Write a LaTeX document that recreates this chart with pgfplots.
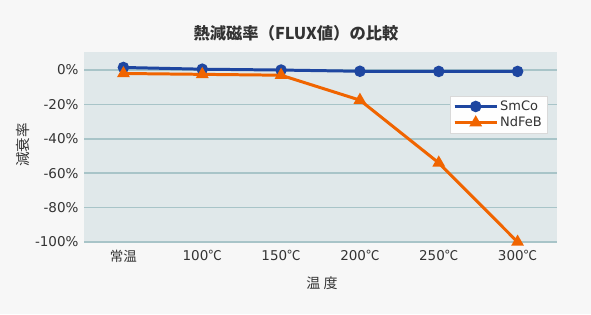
\documentclass[border=0pt]{standalone}
\usepackage{pgfplots}
\pgfplotsset{compat=1.18}
\usepackage{fontspec}
\setmainfont{DejaVu Sans}
\newfontfamily\cjk{Noto Sans CJK JP}
\definecolor{bgc}{HTML}{F7F7F7}
\definecolor{plotbg}{HTML}{E0E8EA}
\definecolor{gridc}{HTML}{A8C4C8}
\definecolor{blueS}{HTML}{1E46A0}
\definecolor{orangeN}{HTML}{F06400}
\definecolor{txt}{HTML}{333333}
\begin{document}
\begin{tikzpicture}[x=1bp,y=1bp]
\fill[bgc] (0,0) rectangle (591,314);
\useasboundingbox (0,0) rectangle (591,314);
\begin{axis}[
  at={(84bp,72bp)}, anchor=south west,
  scale only axis, width=473bp, height=190bp,
  xmin=-0.5, xmax=5.5, ymin=-100, ymax=10.5,
  axis background/.style={fill=plotbg},
  axis line style={draw=none},
  xtick={0,1,2,3,4,5},
  xticklabels={{\cjk 常温},100{\cjk ℃},150{\cjk ℃},200{\cjk ℃},250{\cjk ℃},300{\cjk ℃}},
  ytick={0,-20,-40,-60,-80,-100},
  yticklabels={0\%,-20\%,-40\%,-60\%,-80\%,-100\%},
  major tick length=0pt,
  ymajorgrids, grid style={gridc, line width=1.5pt},
  tick label style={font=\fontsize{13.5bp}{15bp}\selectfont, text=txt},
  yticklabel style={xshift=-2bp},
  xticklabel style={yshift=-5bp},
  clip=false,
  legend style={at={(0.979,0.77)}, anchor=north east, draw=black!15, fill=white!90!bgc,
    font=\fontsize{13bp}{15bp}\selectfont, text=txt, row sep=1bp, inner sep=3bp},
  legend cell align=left,
  legend image code/.code={\draw[#1, line width=3pt] (0bp,0bp) -- (42bp,0bp); \draw[#1,mark repeat=2,mark phase=2] plot coordinates {(0bp,0bp)(21bp,0bp)(42bp,0bp)};},
]
\addplot[blueS, line width=3pt, mark=*, mark size=4.2bp, mark options={solid}] coordinates {(0,1.5) (1,0.5) (2,0) (3,-0.7) (4,-0.8) (5,-0.8)};
\addlegendentry{SmCo}
\addplot[orangeN, line width=3pt, mark=triangle*, mark size=4.5bp] coordinates {(0,-2) (1,-2.5) (2,-3) (3,-17.5) (4,-54) (5,-100)};
\addlegendentry{NdFeB}
\end{axis}
\node[font=\cjk\bfseries\fontsize{16.3bp}{18bp}\selectfont, text=txt] at (296,281) {熱減磁率（FLUX値）の比較};
\node[font=\cjk\fontsize{14.5bp}{16bp}\selectfont, text=txt, rotate=90] at (23,169) {減衰率};
\node[font=\cjk\fontsize{14bp}{16bp}\selectfont, text=txt] at (322,31) {温 度};
\end{tikzpicture}
\end{document}
